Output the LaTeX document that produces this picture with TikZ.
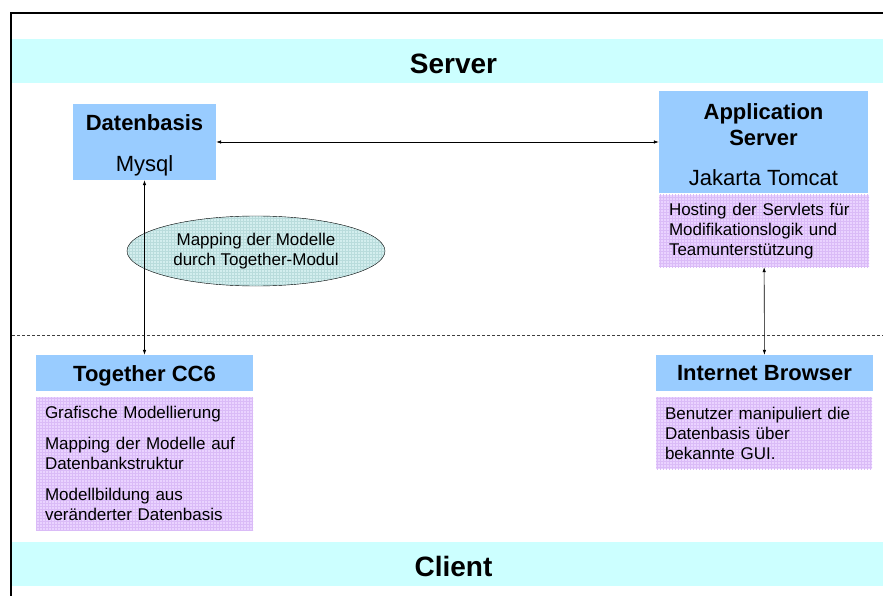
\documentclass[tikz,border=0pt]{standalone}
\usepackage{fontspec}
\setmainfont{Liberation Sans}
\usetikzlibrary{arrows.meta, patterns, shapes.geometric}

\definecolor{bandcyan}{HTML}{CCFFFF}
\definecolor{boxblue}{HTML}{99CCFF}
\definecolor{notelilac}{HTML}{EAD3FF}
\definecolor{notegrid}{HTML}{DABBF7}
\definecolor{ovalteal}{HTML}{D3EEEE}
\definecolor{ovalgrid}{HTML}{B9DCDC}

\begin{document}
\begin{tikzpicture}[x=1pt, y=-1pt,
    every node/.style = {inner sep=0pt},
    band/.style = {fill=bandcyan, minimum width=883pt, minimum height=44pt,
        font=\fontsize{28}{34}\selectfont\bfseries, text height=25pt, text depth=0pt},
    head/.style = {fill=boxblue, align=center, font=\fontsize{22}{26}\selectfont},
    note/.style = {preaction={fill=notelilac}, pattern=grid, pattern color=notegrid,
        align=left, font=\fontsize{17}{20}\selectfont, inner xsep=9pt},
    link/.style = {{Latex[length=5pt,width=3.5pt]}-{Latex[length=5pt,width=3.5pt]}, line width=0.6pt}]

\useasboundingbox (0,0) rectangle (883,596);

\node[band] (server) at (453.5,61) {Server};
\node[band] (client) at (453.5,563.5) {Client};
\draw[line width=1.6pt] (11,600) |- (895,13);
\draw[dash pattern=on 3pt off 2pt, line width=0.6pt, black!75] (12,335) -- (895,335);

\node[head, minimum width=143pt, minimum height=76pt] (db) at (144.5,142)
    {\rule{0pt}{22pt}\textbf{Datenbasis}\\[15pt]Mysql};
\node[head, minimum width=209pt, minimum height=102pt] (app) at (763.5,142)
    {\rule{0pt}{21pt}\textbf{Application}\\\textbf{Server}\\[14pt]Jakarta Tomcat};
\node[note, inner xsep=10pt, text width=190pt, minimum height=72pt] (host) at (764,231)
    {Hosting der Servlets für\\Modifikationslogik und\\Teamunterstützung};

\node[draw, ellipse, minimum width=258pt, minimum height=70pt,
    preaction={fill=ovalteal}, pattern=grid, pattern color=ovalgrid,
    align=center, font=\fontsize{17}{20}\selectfont] (map) at (256,251)
    {Mapping der Modelle\\durch Together-Modul};

\node[head, minimum width=217pt, minimum height=36pt, font=\fontsize{22}{26}\selectfont\bfseries,
    text height=21pt, text depth=5pt] (tog) at (144.5,373)
    {Together CC6};
\node[note, text width=199pt, minimum height=133pt] (tognote) at (144.5,463.5)
    {Grafische Modellierung\\[11pt]Mapping der Modelle auf\\Datenbankstruktur\\[11pt]Modellbildung aus\\veränderter Datenbasis};

\node[head, minimum width=217pt, minimum height=36pt, font=\fontsize{22}{26}\selectfont\bfseries] (web) at (764.5,373)
    {Internet Browser};
\node[note, text width=198pt, minimum height=72pt] (webnote) at (764,433)
    {Benutzer manipuliert die\\Datenbasis über\\bekannte GUI.};

\draw[link] (db) -- (app);
\draw[link] (db) -- (tog);
\draw[link] (host) -- (web);

\end{tikzpicture}
\end{document}
